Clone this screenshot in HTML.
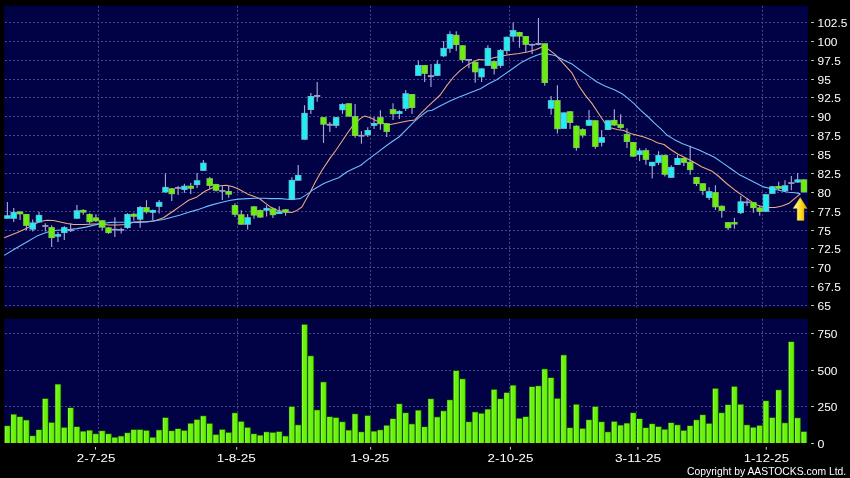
<!DOCTYPE html>
<html><head><meta charset="utf-8"><title>Chart</title>
<style>
html,body{margin:0;padding:0;background:#000;}
body{width:850px;height:478px;position:relative;overflow:hidden;font-family:"Liberation Sans",sans-serif;}
</style></head><body>
<svg width="850" height="478" viewBox="0 0 850 478" style="display:block;position:absolute;left:0;top:0;will-change:transform">
<defs><linearGradient id="ag" x1="0" y1="0" x2="1" y2="0"><stop offset="0" stop-color="#fffbd0"/><stop offset="0.25" stop-color="#fff078"/><stop offset="0.55" stop-color="#ffdc20"/><stop offset="0.85" stop-color="#f2b600"/><stop offset="1" stop-color="#b88000"/></linearGradient>
<linearGradient id="vg" x1="0" y1="0" x2="1" y2="0"><stop offset="0" stop-color="#9cf85c"/><stop offset="0.3" stop-color="#6cf50c"/><stop offset="0.8" stop-color="#68f208"/><stop offset="1" stop-color="#3fb800"/></linearGradient></defs>
<rect x="0" y="0" width="850" height="478" fill="#000"/>
<rect x="4" y="5.8" width="803.9" height="301.7" fill="#010146"/>
<rect x="4" y="318.8" width="803.9" height="124.2" fill="#010146"/>
<g stroke="#8a8ac6" stroke-width="1" stroke-dasharray="2 2" fill="none" opacity="0.53">
<path d="M5 22.5 H807.9"/>
<path d="M5 41.5 H807.9"/>
<path d="M5 60.5 H807.9"/>
<path d="M5 79.5 H807.9"/>
<path d="M5 97.5 H807.9"/>
<path d="M5 116.5 H807.9"/>
<path d="M5 135.5 H807.9"/>
<path d="M5 154.5 H807.9"/>
<path d="M5 173.5 H807.9"/>
<path d="M5 192.5 H807.9"/>
<path d="M5 211.5 H807.9"/>
<path d="M5 230.5 H807.9"/>
<path d="M5 248.5 H807.9"/>
<path d="M5 267.5 H807.9"/>
<path d="M5 286.5 H807.9"/>
<path d="M5 305.5 H807.9"/>
<path d="M5 333.5 H807.9"/>
<path d="M5 370.5 H807.9"/>
<path d="M5 406.5 H807.9"/>
<path d="M98.5 5.8 V307.5"/>
<path d="M98.5 318.8 V443"/>
<path d="M237.5 5.8 V307.5"/>
<path d="M237.5 318.8 V443"/>
<path d="M370.5 5.8 V307.5"/>
<path d="M370.5 318.8 V443"/>
<path d="M509.5 5.8 V307.5"/>
<path d="M509.5 318.8 V443"/>
<path d="M636.5 5.8 V307.5"/>
<path d="M636.5 318.8 V443"/>
<path d="M762.5 5.8 V307.5"/>
<path d="M762.5 318.8 V443"/>
</g>
<path d="M4.2 237.8 L16.8 232.8 L26.8 228.2 L33.5 224.4 L40.2 221.4 L46.9 220.2 L53.6 220.5 L60.3 221.9 L67.0 223.6 L73.7 224.4 L83.8 224.4 L93.8 223.9 L100.5 223.9 L108.9 224.9 L117.3 224.9 L127.3 224.4 L134.0 221.9 L138.4 221.7 L146.8 221.7 L155.1 220.7 L163.5 217.8 L171.9 212.0 L180.3 206.1 L188.6 200.2 L197.0 196.9 L205.4 191.0 L213.8 187.2 L220.5 185.7 L226.3 185.3 L232.2 186.5 L238.9 189.3 L247.3 193.9 L255.6 196.9 L260.0 199.0 L265.0 202.8 L270.0 206.7 L276.8 210.0 L285.1 212.0 L291.8 212.4 L296.9 210.4 L301.9 207.0 L305.2 201.1 L310.3 191.9 L315.3 181.9 L322.0 170.2 L330.4 157.6 L336.1 150.0 L340.3 143.7 L347.0 133.7 L353.7 124.4 L360.4 118.6 L364.5 116.1 L370.4 117.7 L377.1 121.1 L383.8 123.6 L390.5 124.4 L398.9 122.8 L407.3 121.1 L414.8 119.9 L420.7 113.6 L427.4 106.9 L432.0 102.7 L440.2 95.0 L446.9 85.4 L453.6 77.0 L460.3 70.3 L467.0 65.3 L473.7 61.6 L478.7 59.4 L485.4 59.9 L493.8 57.7 L502.1 56.0 L510.5 54.4 L518.9 53.5 L527.3 51.9 L535.6 49.8 L542.6 46.8 L546.8 48.1 L555.1 54.3 L563.5 63.6 L571.9 72.8 L578.4 85.2 L585.2 95.1 L591.9 103.4 L598.6 113.5 L605.3 123.5 L610.4 127.7 L617.1 129.4 L623.8 130.6 L630.5 133.6 L637.2 135.3 L643.9 136.9 L650.6 139.4 L657.3 142.8 L664.0 144.5 L670.7 149.5 L678.1 154.2 L684.8 157.5 L693.1 161.7 L701.5 166.8 L711.6 170.9 L718.3 176.0 L726.6 183.5 L735.0 190.2 L743.4 196.1 L751.8 201.9 L758.5 205.6 L763.5 206.9 L768.5 207.5 L775.2 207.5 L781.9 206.1 L788.6 203.6 L793.6 199.4 L800.3 193.9" fill="none" stroke="#f2aa82" stroke-width="1.05" stroke-linejoin="round"/>
<path d="M4.2 255.4 L16.8 247.8 L26.8 242.0 L36.9 236.1 L46.9 232.3 L57.0 230.3 L67.0 229.9 L77.0 228.6 L87.1 226.9 L97.2 224.4 L103.9 223.2 L110.6 222.4 L117.3 222.2 L127.3 222.2 L134.0 222.4 L138.4 222.5 L146.8 222.0 L155.1 220.8 L163.5 219.5 L171.9 217.3 L180.3 215.0 L188.6 212.3 L197.0 209.9 L205.4 206.9 L213.8 204.4 L222.1 202.2 L230.5 200.2 L238.9 199.1 L247.3 198.6 L255.6 198.2 L264.0 198.2 L270.0 198.6 L280.1 198.6 L290.2 199.5 L300.2 198.6 L306.9 194.4 L313.6 189.4 L323.7 183.6 L333.7 179.4 L338.7 177.7 L347.1 171.8 L353.8 168.5 L360.5 165.5 L367.2 160.1 L377.3 152.6 L387.3 145.0 L393.0 141.0 L398.9 137.0 L407.3 128.6 L414.0 121.9 L420.7 116.1 L427.4 111.0 L432.0 110.2 L440.0 106.0 L450.0 101.0 L458.0 97.5 L464.4 95.0 L472.0 92.1 L480.4 88.7 L488.7 83.7 L497.1 79.5 L505.5 73.6 L513.9 67.8 L522.2 61.9 L530.6 57.7 L536.7 55.2 L542.6 53.4 L548.4 54.2 L555.1 55.5 L563.5 59.9 L571.9 63.9 L580.3 70.3 L588.6 76.1 L597.0 82.0 L605.4 86.2 L613.8 89.5 L622.1 93.7 L627.1 97.6 L633.8 103.4 L640.5 110.1 L647.2 116.0 L653.9 122.7 L660.6 128.6 L667.3 135.3 L674.0 139.4 L682.0 143.6 L690.0 146.5 L699.0 150.0 L706.5 153.4 L714.9 157.5 L723.3 163.4 L731.7 169.3 L740.0 175.1 L748.4 179.3 L756.8 183.5 L763.5 186.9 L770.2 188.5 L776.9 189.7 L781.9 191.0 L788.6 192.2 L795.3 192.7 L800.3 193.9" fill="none" stroke="#70bdfc" stroke-width="1.1" stroke-linejoin="round"/>
<path d="M7.40 202.1 V218.5" stroke="#a6a6d6" stroke-width="1.15"/>
<rect x="4.15" y="215.2" width="6.5" height="3.6" fill="#72c6d8" opacity="0.9"/>
<rect x="5.00" y="216.0" width="4.8" height="2.0" fill="#20eef2"/>
<path d="M13.72 208.1 V221.9" stroke="#a6a6d6" stroke-width="1.15"/>
<rect x="10.47" y="211.9" width="6.5" height="6.9" fill="#72c6d8" opacity="0.9"/>
<rect x="11.32" y="212.7" width="4.8" height="5.3" fill="#20eef2"/>
<path d="M20.04 211.0 V219.9" stroke="#a6a6d6" stroke-width="1.15"/>
<rect x="16.79" y="211.5" width="6.5" height="2.8" fill="#90d060" opacity="0.9"/>
<rect x="17.64" y="212.0" width="4.8" height="1.8" fill="#68f00c"/>
<path d="M26.37 214.0 V230.3" stroke="#a6a6d6" stroke-width="1.15"/>
<rect x="23.12" y="214.0" width="6.5" height="11.9" fill="#90d060" opacity="0.9"/>
<rect x="23.97" y="214.8" width="4.8" height="10.3" fill="#68f00c"/>
<path d="M32.69 219.4 V231.6" stroke="#a6a6d6" stroke-width="1.15"/>
<rect x="29.44" y="222.4" width="6.5" height="7.3" fill="#72c6d8" opacity="0.9"/>
<rect x="30.29" y="223.2" width="4.8" height="5.7" fill="#20eef2"/>
<path d="M39.01 211.8 V222.2" stroke="#a6a6d6" stroke-width="1.15"/>
<rect x="35.76" y="214.9" width="6.5" height="7.6" fill="#72c6d8" opacity="0.9"/>
<rect x="36.61" y="215.7" width="4.8" height="6.0" fill="#20eef2"/>
<path d="M45.33 223.2 V231.6" stroke="#a6a6d6" stroke-width="1.15"/>
<rect x="42.23" y="225.1" width="6.2" height="1.7" fill="#a0a0c4"/>
<path d="M51.65 225.2 V247.0" stroke="#a6a6d6" stroke-width="1.15"/>
<rect x="48.40" y="227.1" width="6.5" height="11.0" fill="#90d060" opacity="0.9"/>
<rect x="49.25" y="227.9" width="4.8" height="9.4" fill="#68f00c"/>
<path d="M57.98 231.9 V242.0" stroke="#a6a6d6" stroke-width="1.15"/>
<rect x="54.73" y="234.1" width="6.5" height="2.6" fill="#72c6d8" opacity="0.9"/>
<rect x="55.58" y="234.6" width="4.8" height="1.6" fill="#20eef2"/>
<path d="M64.30 226.1 V240.0" stroke="#a6a6d6" stroke-width="1.15"/>
<rect x="61.05" y="227.1" width="6.5" height="6.0" fill="#72c6d8" opacity="0.9"/>
<rect x="61.90" y="227.9" width="4.8" height="4.4" fill="#20eef2"/>
<path d="M70.62 223.2 V231.9" stroke="#a6a6d6" stroke-width="1.15"/>
<rect x="67.52" y="229.5" width="6.2" height="1.7" fill="#a0a0c4"/>
<path d="M76.94 205.1 V218.9" stroke="#a6a6d6" stroke-width="1.15"/>
<rect x="73.69" y="210.2" width="6.5" height="8.6" fill="#72c6d8" opacity="0.9"/>
<rect x="74.54" y="211.0" width="4.8" height="7.0" fill="#20eef2"/>
<path d="M83.26 209.3 V214.8" stroke="#a6a6d6" stroke-width="1.15"/>
<rect x="80.01" y="209.9" width="6.5" height="2.7" fill="#90d060" opacity="0.9"/>
<rect x="80.86" y="210.4" width="4.8" height="1.7" fill="#68f00c"/>
<path d="M89.59 213.2 V223.6" stroke="#a6a6d6" stroke-width="1.15"/>
<rect x="86.34" y="214.0" width="6.5" height="8.2" fill="#90d060" opacity="0.9"/>
<rect x="87.19" y="214.8" width="4.8" height="6.6" fill="#68f00c"/>
<path d="M95.91 214.3 V221.9" stroke="#a6a6d6" stroke-width="1.15"/>
<rect x="92.66" y="217.4" width="6.5" height="3.9" fill="#90d060" opacity="0.9"/>
<rect x="93.51" y="218.2" width="4.8" height="2.3" fill="#68f00c"/>
<path d="M102.23 220.2 V230.3" stroke="#a6a6d6" stroke-width="1.15"/>
<rect x="98.98" y="220.2" width="6.5" height="7.5" fill="#90d060" opacity="0.9"/>
<rect x="99.83" y="221.0" width="4.8" height="5.9" fill="#68f00c"/>
<path d="M108.55 226.9 V233.9" stroke="#a6a6d6" stroke-width="1.15"/>
<rect x="105.30" y="227.4" width="6.5" height="5.7" fill="#90d060" opacity="0.9"/>
<rect x="106.15" y="228.2" width="4.8" height="4.1" fill="#68f00c"/>
<path d="M114.87 217.2 V237.0" stroke="#a6a6d6" stroke-width="1.15"/>
<rect x="111.77" y="228.8" width="6.2" height="1.7" fill="#a0a0c4"/>
<path d="M121.20 227.7 V233.6" stroke="#a6a6d6" stroke-width="1.15"/>
<rect x="118.10" y="229.0" width="6.2" height="1.7" fill="#a0a0c4"/>
<path d="M127.52 213.2 V228.9" stroke="#a6a6d6" stroke-width="1.15"/>
<rect x="124.27" y="214.0" width="6.5" height="14.0" fill="#72c6d8" opacity="0.9"/>
<rect x="125.12" y="214.8" width="4.8" height="12.4" fill="#20eef2"/>
<path d="M133.84 212.8 V220.6" stroke="#a6a6d6" stroke-width="1.15"/>
<rect x="130.59" y="213.8" width="6.5" height="3.0" fill="#90d060" opacity="0.9"/>
<rect x="131.44" y="214.6" width="4.8" height="1.4" fill="#68f00c"/>
<path d="M140.16 206.0 V227.8" stroke="#a6a6d6" stroke-width="1.15"/>
<rect x="136.91" y="207.0" width="6.5" height="12.7" fill="#72c6d8" opacity="0.9"/>
<rect x="137.76" y="207.8" width="4.8" height="11.1" fill="#20eef2"/>
<path d="M146.48 200.2 V213.6" stroke="#a6a6d6" stroke-width="1.15"/>
<rect x="143.23" y="207.1" width="6.5" height="5.2" fill="#90d060" opacity="0.9"/>
<rect x="144.08" y="207.9" width="4.8" height="3.6" fill="#68f00c"/>
<path d="M152.81 209.4 V220.0" stroke="#a6a6d6" stroke-width="1.15"/>
<rect x="149.56" y="210.0" width="6.5" height="2.8" fill="#72c6d8" opacity="0.9"/>
<rect x="150.41" y="210.5" width="4.8" height="1.8" fill="#20eef2"/>
<path d="M159.13 199.9 V213.6" stroke="#a6a6d6" stroke-width="1.15"/>
<rect x="155.88" y="201.9" width="6.5" height="5.0" fill="#72c6d8" opacity="0.9"/>
<rect x="156.73" y="202.7" width="4.8" height="3.4" fill="#20eef2"/>
<path d="M165.45 173.4 V192.7" stroke="#a6a6d6" stroke-width="1.15"/>
<rect x="162.20" y="186.9" width="6.5" height="5.6" fill="#72c6d8" opacity="0.9"/>
<rect x="163.05" y="187.7" width="4.8" height="4.0" fill="#20eef2"/>
<path d="M171.77 188.0 V201.1" stroke="#a6a6d6" stroke-width="1.15"/>
<rect x="168.52" y="188.2" width="6.5" height="6.0" fill="#90d060" opacity="0.9"/>
<rect x="169.37" y="189.0" width="4.8" height="4.4" fill="#68f00c"/>
<path d="M178.09 186.0 V194.9" stroke="#a6a6d6" stroke-width="1.15"/>
<rect x="174.99" y="187.1" width="6.2" height="1.7" fill="#a0a0c4"/>
<path d="M184.42 183.8 V192.7" stroke="#a6a6d6" stroke-width="1.15"/>
<rect x="181.17" y="185.7" width="6.5" height="4.3" fill="#72c6d8" opacity="0.9"/>
<rect x="182.02" y="186.5" width="4.8" height="2.7" fill="#20eef2"/>
<path d="M190.74 183.1 V193.9" stroke="#a6a6d6" stroke-width="1.15"/>
<rect x="187.49" y="185.7" width="6.5" height="3.1" fill="#90d060" opacity="0.9"/>
<rect x="188.34" y="186.5" width="4.8" height="1.5" fill="#68f00c"/>
<path d="M197.06 173.1 V188.0" stroke="#a6a6d6" stroke-width="1.15"/>
<rect x="193.81" y="180.2" width="6.5" height="4.9" fill="#72c6d8" opacity="0.9"/>
<rect x="194.66" y="181.0" width="4.8" height="3.3" fill="#20eef2"/>
<path d="M203.38 160.0 V170.9" stroke="#a6a6d6" stroke-width="1.15"/>
<rect x="200.13" y="162.7" width="6.5" height="8.2" fill="#72c6d8" opacity="0.9"/>
<rect x="200.98" y="163.5" width="4.8" height="6.6" fill="#20eef2"/>
<path d="M209.70 177.1 V189.0" stroke="#a6a6d6" stroke-width="1.15"/>
<rect x="206.45" y="178.2" width="6.5" height="7.8" fill="#90d060" opacity="0.9"/>
<rect x="207.30" y="179.0" width="4.8" height="6.2" fill="#68f00c"/>
<path d="M216.03 183.8 V191.5" stroke="#a6a6d6" stroke-width="1.15"/>
<rect x="212.78" y="184.0" width="6.5" height="6.8" fill="#90d060" opacity="0.9"/>
<rect x="213.63" y="184.8" width="4.8" height="5.2" fill="#68f00c"/>
<path d="M222.35 185.2 V199.9" stroke="#a6a6d6" stroke-width="1.15"/>
<rect x="219.25" y="190.1" width="6.2" height="1.7" fill="#a0a0c4"/>
<path d="M228.67 186.0 V197.7" stroke="#a6a6d6" stroke-width="1.15"/>
<rect x="225.42" y="191.0" width="6.5" height="3.7" fill="#90d060" opacity="0.9"/>
<rect x="226.27" y="191.8" width="4.8" height="2.1" fill="#68f00c"/>
<path d="M234.99 203.2 V217.0" stroke="#a6a6d6" stroke-width="1.15"/>
<rect x="231.74" y="205.0" width="6.5" height="9.8" fill="#90d060" opacity="0.9"/>
<rect x="232.59" y="205.8" width="4.8" height="8.2" fill="#68f00c"/>
<path d="M241.31 210.3 V224.5" stroke="#a6a6d6" stroke-width="1.15"/>
<rect x="238.06" y="214.2" width="6.5" height="10.6" fill="#90d060" opacity="0.9"/>
<rect x="238.91" y="215.0" width="4.8" height="9.0" fill="#68f00c"/>
<path d="M247.64 214.0 V229.5" stroke="#a6a6d6" stroke-width="1.15"/>
<rect x="244.39" y="217.2" width="6.5" height="7.6" fill="#72c6d8" opacity="0.9"/>
<rect x="245.24" y="218.0" width="4.8" height="6.0" fill="#20eef2"/>
<path d="M253.96 206.1 V218.7" stroke="#a6a6d6" stroke-width="1.15"/>
<rect x="250.71" y="206.3" width="6.5" height="9.3" fill="#90d060" opacity="0.9"/>
<rect x="251.56" y="207.1" width="4.8" height="7.7" fill="#68f00c"/>
<path d="M260.28 209.4 V217.8" stroke="#a6a6d6" stroke-width="1.15"/>
<rect x="257.03" y="210.0" width="6.5" height="7.6" fill="#90d060" opacity="0.9"/>
<rect x="257.88" y="210.8" width="4.8" height="6.0" fill="#68f00c"/>
<path d="M266.60 205.3 V216.4" stroke="#a6a6d6" stroke-width="1.15"/>
<rect x="263.35" y="207.9" width="6.5" height="2.9" fill="#72c6d8" opacity="0.9"/>
<rect x="264.20" y="208.7" width="4.8" height="1.3" fill="#20eef2"/>
<path d="M272.92 207.8 V217.9" stroke="#a6a6d6" stroke-width="1.15"/>
<rect x="269.67" y="208.4" width="6.5" height="6.8" fill="#90d060" opacity="0.9"/>
<rect x="270.52" y="209.2" width="4.8" height="5.2" fill="#68f00c"/>
<path d="M279.25 206.2 V213.7" stroke="#a6a6d6" stroke-width="1.15"/>
<rect x="276.00" y="211.4" width="6.5" height="2.6" fill="#72c6d8" opacity="0.9"/>
<rect x="276.85" y="211.9" width="4.8" height="1.6" fill="#20eef2"/>
<path d="M285.57 209.0 V215.7" stroke="#a6a6d6" stroke-width="1.15"/>
<rect x="282.32" y="209.2" width="6.5" height="3.5" fill="#90d060" opacity="0.9"/>
<rect x="283.17" y="210.0" width="4.8" height="1.9" fill="#68f00c"/>
<path d="M291.89 177.2 V199.5" stroke="#a6a6d6" stroke-width="1.15"/>
<rect x="288.64" y="179.9" width="6.5" height="19.9" fill="#72c6d8" opacity="0.9"/>
<rect x="289.49" y="180.7" width="4.8" height="18.3" fill="#20eef2"/>
<path d="M298.21 165.1 V180.5" stroke="#a6a6d6" stroke-width="1.15"/>
<rect x="294.96" y="174.9" width="6.5" height="5.9" fill="#72c6d8" opacity="0.9"/>
<rect x="295.81" y="175.7" width="4.8" height="4.3" fill="#20eef2"/>
<path d="M304.53 105.2 V139.5" stroke="#a6a6d6" stroke-width="1.15"/>
<rect x="301.28" y="112.9" width="6.5" height="26.9" fill="#72c6d8" opacity="0.9"/>
<rect x="302.13" y="113.7" width="4.8" height="25.3" fill="#20eef2"/>
<path d="M310.86 93.1 V113.9" stroke="#a6a6d6" stroke-width="1.15"/>
<rect x="307.61" y="96.0" width="6.5" height="14.0" fill="#72c6d8" opacity="0.9"/>
<rect x="308.46" y="96.8" width="4.8" height="12.4" fill="#20eef2"/>
<path d="M317.18 82.1 V101.8" stroke="#a6a6d6" stroke-width="1.15"/>
<rect x="314.08" y="95.0" width="6.2" height="1.9" fill="#a0a0c4"/>
<path d="M323.50 117.2 V142.9" stroke="#a6a6d6" stroke-width="1.15"/>
<rect x="320.25" y="117.1" width="6.5" height="7.6" fill="#90d060" opacity="0.9"/>
<rect x="321.10" y="117.9" width="4.8" height="6.0" fill="#68f00c"/>
<path d="M329.82 121.9 V132.0" stroke="#a6a6d6" stroke-width="1.15"/>
<rect x="326.72" y="123.8" width="6.2" height="1.9" fill="#a0a0c4"/>
<path d="M336.14 116.9 V128.1" stroke="#a6a6d6" stroke-width="1.15"/>
<rect x="332.89" y="117.1" width="6.5" height="8.8" fill="#72c6d8" opacity="0.9"/>
<rect x="333.74" y="117.9" width="4.8" height="7.2" fill="#20eef2"/>
<path d="M342.47 103.2 V113.9" stroke="#a6a6d6" stroke-width="1.15"/>
<rect x="339.22" y="104.0" width="6.5" height="6.2" fill="#72c6d8" opacity="0.9"/>
<rect x="340.07" y="104.8" width="4.8" height="4.6" fill="#20eef2"/>
<path d="M348.79 103.2 V116.4" stroke="#a6a6d6" stroke-width="1.15"/>
<rect x="345.54" y="103.2" width="6.5" height="13.5" fill="#90d060" opacity="0.9"/>
<rect x="346.39" y="104.0" width="4.8" height="11.9" fill="#68f00c"/>
<path d="M355.11 104.0 V137.8" stroke="#a6a6d6" stroke-width="1.15"/>
<rect x="351.86" y="116.1" width="6.5" height="19.9" fill="#90d060" opacity="0.9"/>
<rect x="352.71" y="116.9" width="4.8" height="18.3" fill="#68f00c"/>
<path d="M361.43 131.1 V143.7" stroke="#a6a6d6" stroke-width="1.15"/>
<rect x="358.33" y="134.9" width="6.2" height="1.7" fill="#a0a0c4"/>
<path d="M367.75 127.3 V137.0" stroke="#a6a6d6" stroke-width="1.15"/>
<rect x="364.50" y="130.0" width="6.5" height="5.3" fill="#72c6d8" opacity="0.9"/>
<rect x="365.35" y="130.8" width="4.8" height="3.7" fill="#20eef2"/>
<path d="M374.08 116.9 V129.0" stroke="#a6a6d6" stroke-width="1.15"/>
<rect x="370.83" y="123.0" width="6.5" height="2.9" fill="#72c6d8" opacity="0.9"/>
<rect x="371.68" y="123.8" width="4.8" height="1.3" fill="#20eef2"/>
<path d="M380.40 110.2 V129.8" stroke="#a6a6d6" stroke-width="1.15"/>
<rect x="377.15" y="117.1" width="6.5" height="7.1" fill="#90d060" opacity="0.9"/>
<rect x="378.00" y="117.9" width="4.8" height="5.5" fill="#68f00c"/>
<path d="M386.72 123.3 V137.0" stroke="#a6a6d6" stroke-width="1.15"/>
<rect x="383.47" y="123.3" width="6.5" height="8.6" fill="#90d060" opacity="0.9"/>
<rect x="384.32" y="124.1" width="4.8" height="7.0" fill="#68f00c"/>
<path d="M393.04 103.2 V119.9" stroke="#a6a6d6" stroke-width="1.15"/>
<rect x="389.79" y="109.1" width="6.5" height="5.1" fill="#90d060" opacity="0.9"/>
<rect x="390.64" y="109.9" width="4.8" height="3.5" fill="#68f00c"/>
<path d="M399.36 110.2 V118.9" stroke="#a6a6d6" stroke-width="1.15"/>
<rect x="396.11" y="111.1" width="6.5" height="2.8" fill="#72c6d8" opacity="0.9"/>
<rect x="396.96" y="111.6" width="4.8" height="1.8" fill="#20eef2"/>
<path d="M405.69 90.1 V111.0" stroke="#a6a6d6" stroke-width="1.15"/>
<rect x="402.44" y="93.2" width="6.5" height="15.6" fill="#72c6d8" opacity="0.9"/>
<rect x="403.29" y="94.0" width="4.8" height="14.0" fill="#20eef2"/>
<path d="M412.01 94.0 V113.9" stroke="#a6a6d6" stroke-width="1.15"/>
<rect x="408.76" y="94.0" width="6.5" height="14.0" fill="#90d060" opacity="0.9"/>
<rect x="409.61" y="94.8" width="4.8" height="12.4" fill="#68f00c"/>
<path d="M418.33 60.6 V75.6" stroke="#a6a6d6" stroke-width="1.15"/>
<rect x="415.08" y="65.0" width="6.5" height="10.9" fill="#72c6d8" opacity="0.9"/>
<rect x="415.93" y="65.8" width="4.8" height="9.3" fill="#20eef2"/>
<path d="M424.65 64.9 V82.0" stroke="#a6a6d6" stroke-width="1.15"/>
<rect x="421.40" y="65.0" width="6.5" height="8.9" fill="#90d060" opacity="0.9"/>
<rect x="422.25" y="65.8" width="4.8" height="7.3" fill="#68f00c"/>
<path d="M430.97 64.1 V87.0" stroke="#a6a6d6" stroke-width="1.15"/>
<rect x="427.87" y="75.2" width="6.2" height="1.9" fill="#a0a0c4"/>
<path d="M437.30 60.2 V75.6" stroke="#a6a6d6" stroke-width="1.15"/>
<rect x="434.05" y="63.8" width="6.5" height="12.1" fill="#72c6d8" opacity="0.9"/>
<rect x="434.90" y="64.6" width="4.8" height="10.5" fill="#20eef2"/>
<path d="M443.62 41.0 V56.9" stroke="#a6a6d6" stroke-width="1.15"/>
<rect x="440.37" y="47.9" width="6.5" height="8.4" fill="#72c6d8" opacity="0.9"/>
<rect x="441.22" y="48.7" width="4.8" height="6.8" fill="#20eef2"/>
<path d="M449.94 31.2 V52.7" stroke="#a6a6d6" stroke-width="1.15"/>
<rect x="446.69" y="34.0" width="6.5" height="14.8" fill="#72c6d8" opacity="0.9"/>
<rect x="447.54" y="34.8" width="4.8" height="13.2" fill="#20eef2"/>
<path d="M456.26 31.2 V51.0" stroke="#a6a6d6" stroke-width="1.15"/>
<rect x="453.01" y="34.8" width="6.5" height="10.3" fill="#90d060" opacity="0.9"/>
<rect x="453.86" y="35.6" width="4.8" height="8.7" fill="#68f00c"/>
<path d="M462.58 45.2 V62.7" stroke="#a6a6d6" stroke-width="1.15"/>
<rect x="459.33" y="45.2" width="6.5" height="15.0" fill="#90d060" opacity="0.9"/>
<rect x="460.18" y="46.0" width="4.8" height="13.4" fill="#68f00c"/>
<path d="M468.91 58.9 V68.3" stroke="#a6a6d6" stroke-width="1.15"/>
<rect x="465.81" y="59.0" width="6.2" height="1.8" fill="#a0a0c4"/>
<path d="M475.23 61.6 V82.8" stroke="#a6a6d6" stroke-width="1.15"/>
<rect x="471.98" y="61.9" width="6.5" height="10.4" fill="#90d060" opacity="0.9"/>
<rect x="472.83" y="62.7" width="4.8" height="8.8" fill="#68f00c"/>
<path d="M481.55 68.3 V82.0" stroke="#a6a6d6" stroke-width="1.15"/>
<rect x="478.30" y="68.3" width="6.5" height="9.0" fill="#72c6d8" opacity="0.9"/>
<rect x="479.15" y="69.1" width="4.8" height="7.4" fill="#20eef2"/>
<path d="M487.87 45.2 V65.6" stroke="#a6a6d6" stroke-width="1.15"/>
<rect x="484.62" y="47.9" width="6.5" height="18.0" fill="#72c6d8" opacity="0.9"/>
<rect x="485.47" y="48.7" width="4.8" height="16.4" fill="#20eef2"/>
<path d="M494.19 61.1 V74.5" stroke="#a6a6d6" stroke-width="1.15"/>
<rect x="490.94" y="61.1" width="6.5" height="7.8" fill="#90d060" opacity="0.9"/>
<rect x="491.79" y="61.9" width="4.8" height="6.2" fill="#68f00c"/>
<path d="M500.52 49.0 V67.8" stroke="#a6a6d6" stroke-width="1.15"/>
<rect x="497.27" y="49.9" width="6.5" height="16.0" fill="#72c6d8" opacity="0.9"/>
<rect x="498.12" y="50.7" width="4.8" height="14.4" fill="#20eef2"/>
<path d="M506.84 36.4 V54.4" stroke="#a6a6d6" stroke-width="1.15"/>
<rect x="503.59" y="36.8" width="6.5" height="14.2" fill="#72c6d8" opacity="0.9"/>
<rect x="504.44" y="37.6" width="4.8" height="12.6" fill="#20eef2"/>
<path d="M513.16 22.5 V41.8" stroke="#a6a6d6" stroke-width="1.15"/>
<rect x="509.91" y="30.1" width="6.5" height="6.6" fill="#72c6d8" opacity="0.9"/>
<rect x="510.76" y="30.9" width="4.8" height="5.0" fill="#20eef2"/>
<path d="M519.48 31.8 V47.7" stroke="#a6a6d6" stroke-width="1.15"/>
<rect x="516.23" y="32.0" width="6.5" height="4.6" fill="#90d060" opacity="0.9"/>
<rect x="517.08" y="32.8" width="4.8" height="3.0" fill="#68f00c"/>
<path d="M525.80 35.9 V52.2" stroke="#a6a6d6" stroke-width="1.15"/>
<rect x="522.55" y="36.0" width="6.5" height="8.9" fill="#90d060" opacity="0.9"/>
<rect x="523.40" y="36.8" width="4.8" height="7.3" fill="#68f00c"/>
<path d="M532.13 43.8 V53.9" stroke="#a6a6d6" stroke-width="1.15"/>
<rect x="529.03" y="43.9" width="6.2" height="1.7" fill="#a0a0c4"/>
<path d="M538.45 18.0 V45.2" stroke="#a6a6d6" stroke-width="1.15"/>
<rect x="535.35" y="43.0" width="6.2" height="1.9" fill="#a0a0c4"/>
<path d="M544.77 43.5 V85.7" stroke="#a6a6d6" stroke-width="1.15"/>
<rect x="541.52" y="43.2" width="6.5" height="39.8" fill="#90d060" opacity="0.9"/>
<rect x="542.37" y="44.0" width="4.8" height="38.2" fill="#68f00c"/>
<path d="M551.09 95.9 V114.8" stroke="#a6a6d6" stroke-width="1.15"/>
<rect x="547.84" y="100.1" width="6.5" height="8.7" fill="#72c6d8" opacity="0.9"/>
<rect x="548.69" y="100.9" width="4.8" height="7.1" fill="#20eef2"/>
<path d="M557.41 85.3 V133.6" stroke="#a6a6d6" stroke-width="1.15"/>
<rect x="554.16" y="100.1" width="6.5" height="29.1" fill="#90d060" opacity="0.9"/>
<rect x="555.01" y="100.9" width="4.8" height="27.5" fill="#68f00c"/>
<path d="M563.74 112.6 V128.6" stroke="#a6a6d6" stroke-width="1.15"/>
<rect x="560.49" y="112.3" width="6.5" height="16.6" fill="#72c6d8" opacity="0.9"/>
<rect x="561.34" y="113.1" width="4.8" height="15.0" fill="#20eef2"/>
<path d="M570.06 111.0 V128.9" stroke="#a6a6d6" stroke-width="1.15"/>
<rect x="566.81" y="111.2" width="6.5" height="11.8" fill="#90d060" opacity="0.9"/>
<rect x="567.66" y="112.0" width="4.8" height="10.2" fill="#68f00c"/>
<path d="M576.38 125.2 V150.7" stroke="#a6a6d6" stroke-width="1.15"/>
<rect x="573.13" y="125.7" width="6.5" height="22.4" fill="#90d060" opacity="0.9"/>
<rect x="573.98" y="126.5" width="4.8" height="20.8" fill="#68f00c"/>
<path d="M582.70 128.2 V137.8" stroke="#a6a6d6" stroke-width="1.15"/>
<rect x="579.45" y="129.1" width="6.5" height="6.5" fill="#90d060" opacity="0.9"/>
<rect x="580.30" y="129.9" width="4.8" height="4.9" fill="#68f00c"/>
<path d="M589.02 110.1 V126.0" stroke="#a6a6d6" stroke-width="1.15"/>
<rect x="585.77" y="119.9" width="6.5" height="5.9" fill="#72c6d8" opacity="0.9"/>
<rect x="586.62" y="120.7" width="4.8" height="4.3" fill="#20eef2"/>
<path d="M595.35 120.2 V148.7" stroke="#a6a6d6" stroke-width="1.15"/>
<rect x="592.10" y="120.2" width="6.5" height="26.7" fill="#90d060" opacity="0.9"/>
<rect x="592.95" y="121.0" width="4.8" height="25.1" fill="#68f00c"/>
<path d="M601.67 129.9 V146.6" stroke="#a6a6d6" stroke-width="1.15"/>
<rect x="598.42" y="137.1" width="6.5" height="5.7" fill="#72c6d8" opacity="0.9"/>
<rect x="599.27" y="137.9" width="4.8" height="4.1" fill="#20eef2"/>
<path d="M607.99 120.2 V129.7" stroke="#a6a6d6" stroke-width="1.15"/>
<rect x="604.74" y="120.2" width="6.5" height="9.8" fill="#72c6d8" opacity="0.9"/>
<rect x="605.59" y="121.0" width="4.8" height="8.2" fill="#20eef2"/>
<path d="M614.31 109.3 V126.0" stroke="#a6a6d6" stroke-width="1.15"/>
<rect x="611.06" y="119.9" width="6.5" height="5.6" fill="#90d060" opacity="0.9"/>
<rect x="611.91" y="120.7" width="4.8" height="4.0" fill="#68f00c"/>
<path d="M620.63 114.3 V128.9" stroke="#a6a6d6" stroke-width="1.15"/>
<rect x="617.38" y="124.1" width="6.5" height="3.9" fill="#90d060" opacity="0.9"/>
<rect x="618.23" y="124.9" width="4.8" height="2.3" fill="#68f00c"/>
<path d="M626.96 128.3 V147.9" stroke="#a6a6d6" stroke-width="1.15"/>
<rect x="623.71" y="133.9" width="6.5" height="8.1" fill="#90d060" opacity="0.9"/>
<rect x="624.56" y="134.7" width="4.8" height="6.5" fill="#68f00c"/>
<path d="M633.28 142.0 V156.8" stroke="#a6a6d6" stroke-width="1.15"/>
<rect x="630.03" y="142.0" width="6.5" height="14.7" fill="#90d060" opacity="0.9"/>
<rect x="630.88" y="142.8" width="4.8" height="13.1" fill="#68f00c"/>
<path d="M639.60 148.3 V161.0" stroke="#a6a6d6" stroke-width="1.15"/>
<rect x="636.35" y="150.3" width="6.5" height="4.6" fill="#72c6d8" opacity="0.9"/>
<rect x="637.20" y="151.1" width="4.8" height="3.0" fill="#20eef2"/>
<path d="M645.92 148.3 V164.7" stroke="#a6a6d6" stroke-width="1.15"/>
<rect x="642.67" y="150.1" width="6.5" height="9.8" fill="#90d060" opacity="0.9"/>
<rect x="643.52" y="150.9" width="4.8" height="8.2" fill="#68f00c"/>
<path d="M652.24 161.9 V178.5" stroke="#a6a6d6" stroke-width="1.15"/>
<rect x="648.99" y="161.8" width="6.5" height="4.4" fill="#72c6d8" opacity="0.9"/>
<rect x="649.84" y="162.6" width="4.8" height="2.8" fill="#20eef2"/>
<path d="M658.57 151.2 V165.0" stroke="#a6a6d6" stroke-width="1.15"/>
<rect x="655.32" y="155.0" width="6.5" height="7.9" fill="#72c6d8" opacity="0.9"/>
<rect x="656.17" y="155.8" width="4.8" height="6.3" fill="#20eef2"/>
<path d="M664.89 154.6 V176.6" stroke="#a6a6d6" stroke-width="1.15"/>
<rect x="661.64" y="155.0" width="6.5" height="19.8" fill="#90d060" opacity="0.9"/>
<rect x="662.49" y="155.8" width="4.8" height="18.2" fill="#68f00c"/>
<path d="M671.21 165.3 V177.6" stroke="#a6a6d6" stroke-width="1.15"/>
<rect x="667.96" y="166.9" width="6.5" height="11.0" fill="#72c6d8" opacity="0.9"/>
<rect x="668.81" y="167.7" width="4.8" height="9.4" fill="#20eef2"/>
<path d="M677.53 155.1 V164.7" stroke="#a6a6d6" stroke-width="1.15"/>
<rect x="674.28" y="157.9" width="6.5" height="7.1" fill="#72c6d8" opacity="0.9"/>
<rect x="675.13" y="158.7" width="4.8" height="5.5" fill="#20eef2"/>
<path d="M683.85 157.5 V165.9" stroke="#a6a6d6" stroke-width="1.15"/>
<rect x="680.60" y="157.9" width="6.5" height="5.0" fill="#90d060" opacity="0.9"/>
<rect x="681.45" y="158.7" width="4.8" height="3.4" fill="#68f00c"/>
<path d="M690.18 145.8 V174.8" stroke="#a6a6d6" stroke-width="1.15"/>
<rect x="686.93" y="161.8" width="6.5" height="8.3" fill="#90d060" opacity="0.9"/>
<rect x="687.78" y="162.6" width="4.8" height="6.7" fill="#68f00c"/>
<path d="M696.50 176.8 V186.0" stroke="#a6a6d6" stroke-width="1.15"/>
<rect x="693.25" y="177.0" width="6.5" height="7.0" fill="#90d060" opacity="0.9"/>
<rect x="694.10" y="177.8" width="4.8" height="5.4" fill="#68f00c"/>
<path d="M702.82 183.2 V194.9" stroke="#a6a6d6" stroke-width="1.15"/>
<rect x="699.57" y="183.2" width="6.5" height="7.8" fill="#90d060" opacity="0.9"/>
<rect x="700.42" y="184.0" width="4.8" height="6.2" fill="#68f00c"/>
<path d="M709.14 187.2 V199.9" stroke="#a6a6d6" stroke-width="1.15"/>
<rect x="705.89" y="191.1" width="6.5" height="6.9" fill="#72c6d8" opacity="0.9"/>
<rect x="706.74" y="191.9" width="4.8" height="5.3" fill="#20eef2"/>
<path d="M715.46 185.2 V210.0" stroke="#a6a6d6" stroke-width="1.15"/>
<rect x="712.21" y="192.1" width="6.5" height="15.2" fill="#90d060" opacity="0.9"/>
<rect x="713.06" y="192.9" width="4.8" height="13.6" fill="#68f00c"/>
<path d="M721.79 205.3 V217.8" stroke="#a6a6d6" stroke-width="1.15"/>
<rect x="718.54" y="205.8" width="6.5" height="5.1" fill="#90d060" opacity="0.9"/>
<rect x="719.39" y="206.6" width="4.8" height="3.5" fill="#68f00c"/>
<path d="M728.11 222.0 V230.0" stroke="#a6a6d6" stroke-width="1.15"/>
<rect x="724.86" y="222.1" width="6.5" height="6.1" fill="#90d060" opacity="0.9"/>
<rect x="725.71" y="222.9" width="4.8" height="4.5" fill="#68f00c"/>
<path d="M734.43 217.8 V228.7" stroke="#a6a6d6" stroke-width="1.15"/>
<rect x="731.18" y="222.1" width="6.5" height="2.4" fill="#90d060" opacity="0.9"/>
<rect x="732.03" y="222.6" width="4.8" height="1.4" fill="#68f00c"/>
<path d="M740.75 196.1 V214.0" stroke="#a6a6d6" stroke-width="1.15"/>
<rect x="737.50" y="201.3" width="6.5" height="11.8" fill="#72c6d8" opacity="0.9"/>
<rect x="738.35" y="202.1" width="4.8" height="10.2" fill="#20eef2"/>
<path d="M747.07 198.1 V206.1" stroke="#a6a6d6" stroke-width="1.15"/>
<rect x="743.97" y="201.5" width="6.2" height="1.7" fill="#a0a0c4"/>
<path d="M753.40 201.9 V212.8" stroke="#a6a6d6" stroke-width="1.15"/>
<rect x="750.15" y="202.1" width="6.5" height="6.0" fill="#90d060" opacity="0.9"/>
<rect x="751.00" y="202.9" width="4.8" height="4.4" fill="#68f00c"/>
<path d="M759.72 206.1 V215.8" stroke="#a6a6d6" stroke-width="1.15"/>
<rect x="756.47" y="207.5" width="6.5" height="4.4" fill="#90d060" opacity="0.9"/>
<rect x="757.32" y="208.3" width="4.8" height="2.8" fill="#68f00c"/>
<path d="M766.04 193.9 V211.6" stroke="#a6a6d6" stroke-width="1.15"/>
<rect x="762.79" y="194.1" width="6.5" height="17.8" fill="#72c6d8" opacity="0.9"/>
<rect x="763.64" y="194.9" width="4.8" height="16.2" fill="#20eef2"/>
<path d="M772.36 186.0 V193.6" stroke="#a6a6d6" stroke-width="1.15"/>
<rect x="769.11" y="186.2" width="6.5" height="7.7" fill="#72c6d8" opacity="0.9"/>
<rect x="769.96" y="187.0" width="4.8" height="6.1" fill="#20eef2"/>
<path d="M778.68 181.8 V190.2" stroke="#a6a6d6" stroke-width="1.15"/>
<rect x="775.43" y="186.0" width="6.5" height="2.8" fill="#90d060" opacity="0.9"/>
<rect x="776.28" y="186.5" width="4.8" height="1.8" fill="#68f00c"/>
<path d="M785.01 180.2 V191.9" stroke="#a6a6d6" stroke-width="1.15"/>
<rect x="781.76" y="185.2" width="6.5" height="5.8" fill="#72c6d8" opacity="0.9"/>
<rect x="782.61" y="186.0" width="4.8" height="4.2" fill="#20eef2"/>
<path d="M791.33 176.0 V190.2" stroke="#a6a6d6" stroke-width="1.15"/>
<rect x="788.23" y="182.2" width="6.2" height="1.7" fill="#a0a0c4"/>
<path d="M797.65 173.1 V182.7" stroke="#a6a6d6" stroke-width="1.15"/>
<rect x="794.40" y="179.3" width="6.5" height="3.3" fill="#72c6d8" opacity="0.9"/>
<rect x="795.25" y="180.1" width="4.8" height="1.7" fill="#20eef2"/>
<path d="M803.97 179.3 V192.7" stroke="#a6a6d6" stroke-width="1.15"/>
<rect x="800.72" y="179.3" width="6.5" height="12.9" fill="#90d060" opacity="0.9"/>
<rect x="801.57" y="180.1" width="4.8" height="11.3" fill="#68f00c"/>
<path d="M800.2 197.5 L807.2 208.6 L804.0 208.6 L804.0 220.4 L797.1 220.4 L797.1 208.6 L793.0 208.6 Z" fill="url(#ag)" stroke="#c89a20" stroke-width="0.4"/>
<rect x="4.30" y="425.5" width="6.32" height="17.5" fill="#145a00"/>
<rect x="4.80" y="426.1" width="5.32" height="16.9" fill="url(#vg)"/>
<rect x="10.62" y="414.0" width="6.32" height="29.0" fill="#145a00"/>
<rect x="11.12" y="414.6" width="5.32" height="28.4" fill="url(#vg)"/>
<rect x="16.94" y="416.4" width="6.32" height="26.6" fill="#145a00"/>
<rect x="17.44" y="417.0" width="5.32" height="26.0" fill="url(#vg)"/>
<rect x="23.27" y="419.8" width="6.32" height="23.2" fill="#145a00"/>
<rect x="23.77" y="420.4" width="5.32" height="22.6" fill="url(#vg)"/>
<rect x="29.59" y="435.5" width="6.32" height="7.5" fill="#145a00"/>
<rect x="30.09" y="436.1" width="5.32" height="6.9" fill="url(#vg)"/>
<rect x="35.91" y="429.4" width="6.32" height="13.6" fill="#145a00"/>
<rect x="36.41" y="430.0" width="5.32" height="13.0" fill="url(#vg)"/>
<rect x="42.23" y="398.3" width="6.32" height="44.7" fill="#145a00"/>
<rect x="42.73" y="398.9" width="5.32" height="44.1" fill="url(#vg)"/>
<rect x="48.55" y="422.2" width="6.32" height="20.8" fill="#145a00"/>
<rect x="49.05" y="422.8" width="5.32" height="20.2" fill="url(#vg)"/>
<rect x="54.88" y="383.9" width="6.32" height="59.1" fill="#145a00"/>
<rect x="55.38" y="384.5" width="5.32" height="58.5" fill="url(#vg)"/>
<rect x="61.20" y="427.2" width="6.32" height="15.8" fill="#145a00"/>
<rect x="61.70" y="427.8" width="5.32" height="15.2" fill="url(#vg)"/>
<rect x="67.52" y="407.4" width="6.32" height="35.6" fill="#145a00"/>
<rect x="68.02" y="408.0" width="5.32" height="35.0" fill="url(#vg)"/>
<rect x="73.84" y="426.4" width="6.32" height="16.6" fill="#145a00"/>
<rect x="74.34" y="427.0" width="5.32" height="16.0" fill="url(#vg)"/>
<rect x="80.16" y="431.0" width="6.32" height="12.0" fill="#145a00"/>
<rect x="80.66" y="431.6" width="5.32" height="11.4" fill="url(#vg)"/>
<rect x="86.49" y="430.0" width="6.32" height="13.0" fill="#145a00"/>
<rect x="86.99" y="430.6" width="5.32" height="12.4" fill="url(#vg)"/>
<rect x="92.81" y="433.5" width="6.32" height="9.5" fill="#145a00"/>
<rect x="93.31" y="434.1" width="5.32" height="8.9" fill="url(#vg)"/>
<rect x="99.13" y="430.5" width="6.32" height="12.5" fill="#145a00"/>
<rect x="99.63" y="431.1" width="5.32" height="11.9" fill="url(#vg)"/>
<rect x="105.45" y="433.5" width="6.32" height="9.5" fill="#145a00"/>
<rect x="105.95" y="434.1" width="5.32" height="8.9" fill="url(#vg)"/>
<rect x="111.77" y="437.1" width="6.32" height="5.9" fill="#145a00"/>
<rect x="112.27" y="437.7" width="5.32" height="5.3" fill="url(#vg)"/>
<rect x="118.10" y="435.8" width="6.32" height="7.2" fill="#145a00"/>
<rect x="118.60" y="436.4" width="5.32" height="6.6" fill="url(#vg)"/>
<rect x="124.42" y="432.5" width="6.32" height="10.5" fill="#145a00"/>
<rect x="124.92" y="433.1" width="5.32" height="9.9" fill="url(#vg)"/>
<rect x="130.74" y="429.3" width="6.32" height="13.7" fill="#145a00"/>
<rect x="131.24" y="429.9" width="5.32" height="13.1" fill="url(#vg)"/>
<rect x="137.06" y="429.3" width="6.32" height="13.7" fill="#145a00"/>
<rect x="137.56" y="429.9" width="5.32" height="13.1" fill="url(#vg)"/>
<rect x="143.38" y="430.2" width="6.32" height="12.8" fill="#145a00"/>
<rect x="143.88" y="430.8" width="5.32" height="12.2" fill="url(#vg)"/>
<rect x="149.71" y="437.1" width="6.32" height="5.9" fill="#145a00"/>
<rect x="150.21" y="437.7" width="5.32" height="5.3" fill="url(#vg)"/>
<rect x="156.03" y="429.7" width="6.32" height="13.3" fill="#145a00"/>
<rect x="156.53" y="430.3" width="5.32" height="12.7" fill="url(#vg)"/>
<rect x="162.35" y="417.3" width="6.32" height="25.7" fill="#145a00"/>
<rect x="162.85" y="417.9" width="5.32" height="25.1" fill="url(#vg)"/>
<rect x="168.67" y="430.5" width="6.32" height="12.5" fill="#145a00"/>
<rect x="169.17" y="431.1" width="5.32" height="11.9" fill="url(#vg)"/>
<rect x="174.99" y="428.4" width="6.32" height="14.6" fill="#145a00"/>
<rect x="175.49" y="429.0" width="5.32" height="14.0" fill="url(#vg)"/>
<rect x="181.32" y="430.2" width="6.32" height="12.8" fill="#145a00"/>
<rect x="181.82" y="430.8" width="5.32" height="12.2" fill="url(#vg)"/>
<rect x="187.64" y="423.1" width="6.32" height="19.9" fill="#145a00"/>
<rect x="188.14" y="423.7" width="5.32" height="19.3" fill="url(#vg)"/>
<rect x="193.96" y="419.3" width="6.32" height="23.7" fill="#145a00"/>
<rect x="194.46" y="419.9" width="5.32" height="23.1" fill="url(#vg)"/>
<rect x="200.28" y="415.6" width="6.32" height="27.4" fill="#145a00"/>
<rect x="200.78" y="416.2" width="5.32" height="26.8" fill="url(#vg)"/>
<rect x="206.60" y="423.2" width="6.32" height="19.8" fill="#145a00"/>
<rect x="207.10" y="423.8" width="5.32" height="19.2" fill="url(#vg)"/>
<rect x="212.93" y="434.3" width="6.32" height="8.7" fill="#145a00"/>
<rect x="213.43" y="434.9" width="5.32" height="8.1" fill="url(#vg)"/>
<rect x="219.25" y="429.2" width="6.32" height="13.8" fill="#145a00"/>
<rect x="219.75" y="429.8" width="5.32" height="13.2" fill="url(#vg)"/>
<rect x="225.57" y="432.2" width="6.32" height="10.8" fill="#145a00"/>
<rect x="226.07" y="432.8" width="5.32" height="10.2" fill="url(#vg)"/>
<rect x="231.89" y="412.6" width="6.32" height="30.4" fill="#145a00"/>
<rect x="232.39" y="413.2" width="5.32" height="29.8" fill="url(#vg)"/>
<rect x="238.21" y="421.2" width="6.32" height="21.8" fill="#145a00"/>
<rect x="238.71" y="421.8" width="5.32" height="21.2" fill="url(#vg)"/>
<rect x="244.54" y="427.2" width="6.32" height="15.8" fill="#145a00"/>
<rect x="245.04" y="427.8" width="5.32" height="15.2" fill="url(#vg)"/>
<rect x="250.86" y="433.5" width="6.32" height="9.5" fill="#145a00"/>
<rect x="251.36" y="434.1" width="5.32" height="8.9" fill="url(#vg)"/>
<rect x="257.18" y="435.0" width="6.32" height="8.0" fill="#145a00"/>
<rect x="257.68" y="435.6" width="5.32" height="7.4" fill="url(#vg)"/>
<rect x="263.50" y="431.6" width="6.32" height="11.4" fill="#145a00"/>
<rect x="264.00" y="432.2" width="5.32" height="10.8" fill="url(#vg)"/>
<rect x="269.82" y="432.2" width="6.32" height="10.8" fill="#145a00"/>
<rect x="270.32" y="432.8" width="5.32" height="10.2" fill="url(#vg)"/>
<rect x="276.15" y="431.3" width="6.32" height="11.7" fill="#145a00"/>
<rect x="276.65" y="431.9" width="5.32" height="11.1" fill="url(#vg)"/>
<rect x="282.47" y="435.8" width="6.32" height="7.2" fill="#145a00"/>
<rect x="282.97" y="436.4" width="5.32" height="6.6" fill="url(#vg)"/>
<rect x="288.79" y="406.3" width="6.32" height="36.7" fill="#145a00"/>
<rect x="289.29" y="406.9" width="5.32" height="36.1" fill="url(#vg)"/>
<rect x="295.11" y="424.6" width="6.32" height="18.4" fill="#145a00"/>
<rect x="295.61" y="425.2" width="5.32" height="17.8" fill="url(#vg)"/>
<rect x="301.43" y="324.2" width="6.32" height="118.8" fill="#145a00"/>
<rect x="301.93" y="324.8" width="5.32" height="118.2" fill="url(#vg)"/>
<rect x="307.76" y="355.6" width="6.32" height="87.4" fill="#145a00"/>
<rect x="308.26" y="356.2" width="5.32" height="86.8" fill="url(#vg)"/>
<rect x="314.08" y="409.7" width="6.32" height="33.3" fill="#145a00"/>
<rect x="314.58" y="410.3" width="5.32" height="32.7" fill="url(#vg)"/>
<rect x="320.40" y="381.7" width="6.32" height="61.3" fill="#145a00"/>
<rect x="320.90" y="382.3" width="5.32" height="60.7" fill="url(#vg)"/>
<rect x="326.72" y="416.4" width="6.32" height="26.6" fill="#145a00"/>
<rect x="327.22" y="417.0" width="5.32" height="26.0" fill="url(#vg)"/>
<rect x="333.04" y="417.3" width="6.32" height="25.7" fill="#145a00"/>
<rect x="333.54" y="417.9" width="5.32" height="25.1" fill="url(#vg)"/>
<rect x="339.37" y="421.5" width="6.32" height="21.5" fill="#145a00"/>
<rect x="339.87" y="422.1" width="5.32" height="20.9" fill="url(#vg)"/>
<rect x="345.69" y="429.9" width="6.32" height="13.1" fill="#145a00"/>
<rect x="346.19" y="430.5" width="5.32" height="12.5" fill="url(#vg)"/>
<rect x="352.01" y="413.6" width="6.32" height="29.4" fill="#145a00"/>
<rect x="352.51" y="414.2" width="5.32" height="28.8" fill="url(#vg)"/>
<rect x="358.33" y="431.6" width="6.32" height="11.4" fill="#145a00"/>
<rect x="358.83" y="432.2" width="5.32" height="10.8" fill="url(#vg)"/>
<rect x="364.65" y="415.3" width="6.32" height="27.7" fill="#145a00"/>
<rect x="365.15" y="415.9" width="5.32" height="27.1" fill="url(#vg)"/>
<rect x="370.98" y="431.0" width="6.32" height="12.0" fill="#145a00"/>
<rect x="371.48" y="431.6" width="5.32" height="11.4" fill="url(#vg)"/>
<rect x="377.30" y="429.6" width="6.32" height="13.4" fill="#145a00"/>
<rect x="377.80" y="430.2" width="5.32" height="12.8" fill="url(#vg)"/>
<rect x="383.62" y="425.1" width="6.32" height="17.9" fill="#145a00"/>
<rect x="384.12" y="425.7" width="5.32" height="17.3" fill="url(#vg)"/>
<rect x="389.94" y="418.4" width="6.32" height="24.6" fill="#145a00"/>
<rect x="390.44" y="419.0" width="5.32" height="24.0" fill="url(#vg)"/>
<rect x="396.26" y="403.5" width="6.32" height="39.5" fill="#145a00"/>
<rect x="396.76" y="404.1" width="5.32" height="38.9" fill="url(#vg)"/>
<rect x="402.59" y="412.5" width="6.32" height="30.5" fill="#145a00"/>
<rect x="403.09" y="413.1" width="5.32" height="29.9" fill="url(#vg)"/>
<rect x="408.91" y="423.7" width="6.32" height="19.3" fill="#145a00"/>
<rect x="409.41" y="424.3" width="5.32" height="18.7" fill="url(#vg)"/>
<rect x="415.23" y="410.0" width="6.32" height="33.0" fill="#145a00"/>
<rect x="415.73" y="410.6" width="5.32" height="32.4" fill="url(#vg)"/>
<rect x="421.55" y="426.5" width="6.32" height="16.5" fill="#145a00"/>
<rect x="422.05" y="427.1" width="5.32" height="15.9" fill="url(#vg)"/>
<rect x="427.87" y="398.5" width="6.32" height="44.5" fill="#145a00"/>
<rect x="428.37" y="399.1" width="5.32" height="43.9" fill="url(#vg)"/>
<rect x="434.20" y="416.7" width="6.32" height="26.3" fill="#145a00"/>
<rect x="434.70" y="417.3" width="5.32" height="25.7" fill="url(#vg)"/>
<rect x="440.52" y="410.6" width="6.32" height="32.4" fill="#145a00"/>
<rect x="441.02" y="411.2" width="5.32" height="31.8" fill="url(#vg)"/>
<rect x="446.84" y="399.6" width="6.32" height="43.4" fill="#145a00"/>
<rect x="447.34" y="400.2" width="5.32" height="42.8" fill="url(#vg)"/>
<rect x="453.16" y="370.4" width="6.32" height="72.6" fill="#145a00"/>
<rect x="453.66" y="371.0" width="5.32" height="72.0" fill="url(#vg)"/>
<rect x="459.48" y="378.6" width="6.32" height="64.4" fill="#145a00"/>
<rect x="459.98" y="379.2" width="5.32" height="63.8" fill="url(#vg)"/>
<rect x="465.81" y="421.5" width="6.32" height="21.5" fill="#145a00"/>
<rect x="466.31" y="422.1" width="5.32" height="20.9" fill="url(#vg)"/>
<rect x="472.13" y="411.7" width="6.32" height="31.3" fill="#145a00"/>
<rect x="472.63" y="412.3" width="5.32" height="30.7" fill="url(#vg)"/>
<rect x="478.45" y="413.1" width="6.32" height="29.9" fill="#145a00"/>
<rect x="478.95" y="413.7" width="5.32" height="29.3" fill="url(#vg)"/>
<rect x="484.77" y="408.9" width="6.32" height="34.1" fill="#145a00"/>
<rect x="485.27" y="409.5" width="5.32" height="33.5" fill="url(#vg)"/>
<rect x="491.09" y="389.2" width="6.32" height="53.8" fill="#145a00"/>
<rect x="491.59" y="389.8" width="5.32" height="53.2" fill="url(#vg)"/>
<rect x="497.42" y="398.5" width="6.32" height="44.5" fill="#145a00"/>
<rect x="497.92" y="399.1" width="5.32" height="43.9" fill="url(#vg)"/>
<rect x="503.74" y="392.3" width="6.32" height="50.7" fill="#145a00"/>
<rect x="504.24" y="392.9" width="5.32" height="50.1" fill="url(#vg)"/>
<rect x="510.06" y="385.0" width="6.32" height="58.0" fill="#145a00"/>
<rect x="510.56" y="385.6" width="5.32" height="57.4" fill="url(#vg)"/>
<rect x="516.38" y="418.1" width="6.32" height="24.9" fill="#145a00"/>
<rect x="516.88" y="418.7" width="5.32" height="24.3" fill="url(#vg)"/>
<rect x="522.70" y="416.4" width="6.32" height="26.6" fill="#145a00"/>
<rect x="523.20" y="417.0" width="5.32" height="26.0" fill="url(#vg)"/>
<rect x="529.03" y="386.4" width="6.32" height="56.6" fill="#145a00"/>
<rect x="529.53" y="387.0" width="5.32" height="56.0" fill="url(#vg)"/>
<rect x="535.35" y="385.6" width="6.32" height="57.4" fill="#145a00"/>
<rect x="535.85" y="386.2" width="5.32" height="56.8" fill="url(#vg)"/>
<rect x="541.67" y="368.7" width="6.32" height="74.3" fill="#145a00"/>
<rect x="542.17" y="369.3" width="5.32" height="73.7" fill="url(#vg)"/>
<rect x="547.99" y="377.4" width="6.32" height="65.6" fill="#145a00"/>
<rect x="548.49" y="378.0" width="5.32" height="65.0" fill="url(#vg)"/>
<rect x="554.31" y="398.2" width="6.32" height="44.8" fill="#145a00"/>
<rect x="554.81" y="398.8" width="5.32" height="44.2" fill="url(#vg)"/>
<rect x="560.64" y="354.7" width="6.32" height="88.3" fill="#145a00"/>
<rect x="561.14" y="355.3" width="5.32" height="87.7" fill="url(#vg)"/>
<rect x="566.96" y="427.4" width="6.32" height="15.6" fill="#145a00"/>
<rect x="567.46" y="428.0" width="5.32" height="15.0" fill="url(#vg)"/>
<rect x="573.28" y="404.1" width="6.32" height="38.9" fill="#145a00"/>
<rect x="573.78" y="404.7" width="5.32" height="38.3" fill="url(#vg)"/>
<rect x="579.60" y="428.2" width="6.32" height="14.8" fill="#145a00"/>
<rect x="580.10" y="428.8" width="5.32" height="14.2" fill="url(#vg)"/>
<rect x="585.92" y="419.5" width="6.32" height="23.5" fill="#145a00"/>
<rect x="586.42" y="420.1" width="5.32" height="22.9" fill="url(#vg)"/>
<rect x="592.25" y="406.3" width="6.32" height="36.7" fill="#145a00"/>
<rect x="592.75" y="406.9" width="5.32" height="36.1" fill="url(#vg)"/>
<rect x="598.57" y="421.5" width="6.32" height="21.5" fill="#145a00"/>
<rect x="599.07" y="422.1" width="5.32" height="20.9" fill="url(#vg)"/>
<rect x="604.89" y="431.6" width="6.32" height="11.4" fill="#145a00"/>
<rect x="605.39" y="432.2" width="5.32" height="10.8" fill="url(#vg)"/>
<rect x="611.21" y="421.2" width="6.32" height="21.8" fill="#145a00"/>
<rect x="611.71" y="421.8" width="5.32" height="21.2" fill="url(#vg)"/>
<rect x="617.53" y="424.9" width="6.32" height="18.1" fill="#145a00"/>
<rect x="618.03" y="425.5" width="5.32" height="17.5" fill="url(#vg)"/>
<rect x="623.86" y="422.9" width="6.32" height="20.1" fill="#145a00"/>
<rect x="624.36" y="423.5" width="5.32" height="19.5" fill="url(#vg)"/>
<rect x="630.18" y="412.5" width="6.32" height="30.5" fill="#145a00"/>
<rect x="630.68" y="413.1" width="5.32" height="29.9" fill="url(#vg)"/>
<rect x="636.50" y="418.4" width="6.32" height="24.6" fill="#145a00"/>
<rect x="637.00" y="419.0" width="5.32" height="24.0" fill="url(#vg)"/>
<rect x="642.82" y="427.4" width="6.32" height="15.6" fill="#145a00"/>
<rect x="643.32" y="428.0" width="5.32" height="15.0" fill="url(#vg)"/>
<rect x="649.14" y="423.5" width="6.32" height="19.5" fill="#145a00"/>
<rect x="649.64" y="424.1" width="5.32" height="18.9" fill="url(#vg)"/>
<rect x="655.47" y="426.3" width="6.32" height="16.7" fill="#145a00"/>
<rect x="655.97" y="426.9" width="5.32" height="16.1" fill="url(#vg)"/>
<rect x="661.79" y="429.1" width="6.32" height="13.9" fill="#145a00"/>
<rect x="662.29" y="429.7" width="5.32" height="13.3" fill="url(#vg)"/>
<rect x="668.11" y="422.4" width="6.32" height="20.6" fill="#145a00"/>
<rect x="668.61" y="423.0" width="5.32" height="20.0" fill="url(#vg)"/>
<rect x="674.43" y="424.6" width="6.32" height="18.4" fill="#145a00"/>
<rect x="674.93" y="425.2" width="5.32" height="17.8" fill="url(#vg)"/>
<rect x="680.75" y="430.2" width="6.32" height="12.8" fill="#145a00"/>
<rect x="681.25" y="430.8" width="5.32" height="12.2" fill="url(#vg)"/>
<rect x="687.08" y="425.4" width="6.32" height="17.6" fill="#145a00"/>
<rect x="687.58" y="426.0" width="5.32" height="17.0" fill="url(#vg)"/>
<rect x="693.40" y="419.6" width="6.32" height="23.4" fill="#145a00"/>
<rect x="693.90" y="420.2" width="5.32" height="22.8" fill="url(#vg)"/>
<rect x="699.72" y="414.5" width="6.32" height="28.5" fill="#145a00"/>
<rect x="700.22" y="415.1" width="5.32" height="27.9" fill="url(#vg)"/>
<rect x="706.04" y="423.2" width="6.32" height="19.8" fill="#145a00"/>
<rect x="706.54" y="423.8" width="5.32" height="19.2" fill="url(#vg)"/>
<rect x="712.36" y="388.2" width="6.32" height="54.8" fill="#145a00"/>
<rect x="712.86" y="388.8" width="5.32" height="54.2" fill="url(#vg)"/>
<rect x="718.69" y="412.5" width="6.32" height="30.5" fill="#145a00"/>
<rect x="719.19" y="413.1" width="5.32" height="29.9" fill="url(#vg)"/>
<rect x="725.01" y="404.4" width="6.32" height="38.6" fill="#145a00"/>
<rect x="725.51" y="405.0" width="5.32" height="38.0" fill="url(#vg)"/>
<rect x="731.33" y="386.2" width="6.32" height="56.8" fill="#145a00"/>
<rect x="731.83" y="386.8" width="5.32" height="56.2" fill="url(#vg)"/>
<rect x="737.65" y="404.1" width="6.32" height="38.9" fill="#145a00"/>
<rect x="738.15" y="404.7" width="5.32" height="38.3" fill="url(#vg)"/>
<rect x="743.97" y="424.6" width="6.32" height="18.4" fill="#145a00"/>
<rect x="744.47" y="425.2" width="5.32" height="17.8" fill="url(#vg)"/>
<rect x="750.30" y="427.1" width="6.32" height="15.9" fill="#145a00"/>
<rect x="750.80" y="427.7" width="5.32" height="15.3" fill="url(#vg)"/>
<rect x="756.62" y="425.2" width="6.32" height="17.8" fill="#145a00"/>
<rect x="757.12" y="425.8" width="5.32" height="17.2" fill="url(#vg)"/>
<rect x="762.94" y="400.5" width="6.32" height="42.5" fill="#145a00"/>
<rect x="763.44" y="401.1" width="5.32" height="41.9" fill="url(#vg)"/>
<rect x="769.26" y="417.3" width="6.32" height="25.7" fill="#145a00"/>
<rect x="769.76" y="417.9" width="5.32" height="25.1" fill="url(#vg)"/>
<rect x="775.58" y="389.6" width="6.32" height="53.4" fill="#145a00"/>
<rect x="776.08" y="390.2" width="5.32" height="52.8" fill="url(#vg)"/>
<rect x="781.91" y="422.6" width="6.32" height="20.4" fill="#145a00"/>
<rect x="782.41" y="423.2" width="5.32" height="19.8" fill="url(#vg)"/>
<rect x="788.23" y="341.4" width="6.32" height="101.6" fill="#145a00"/>
<rect x="788.73" y="342.0" width="5.32" height="101.0" fill="url(#vg)"/>
<rect x="794.55" y="417.6" width="6.32" height="25.4" fill="#145a00"/>
<rect x="795.05" y="418.2" width="5.32" height="24.8" fill="url(#vg)"/>
<rect x="800.87" y="431.3" width="6.32" height="11.7" fill="#145a00"/>
<rect x="801.37" y="431.9" width="5.32" height="11.1" fill="url(#vg)"/>
<g stroke="#d4d4d4" stroke-width="1">
<path d="M811.2 22.5 H813.8"/>
<path d="M811.2 41.5 H813.8"/>
<path d="M811.2 60.5 H813.8"/>
<path d="M811.2 79.5 H813.8"/>
<path d="M811.2 97.5 H813.8"/>
<path d="M811.2 116.5 H813.8"/>
<path d="M811.2 135.5 H813.8"/>
<path d="M811.2 154.5 H813.8"/>
<path d="M811.2 173.5 H813.8"/>
<path d="M811.2 192.5 H813.8"/>
<path d="M811.2 211.5 H813.8"/>
<path d="M811.2 230.5 H813.8"/>
<path d="M811.2 248.5 H813.8"/>
<path d="M811.2 267.5 H813.8"/>
<path d="M811.2 286.5 H813.8"/>
<path d="M811.2 305.5 H813.8"/>
<path d="M811.2 333.5 H813.8"/>
<path d="M811.2 370.5 H813.8"/>
<path d="M811.2 406.5 H813.8"/>
<path d="M811.2 443.5 H813.8"/>
<path d="M95.5 447 V449.6"/>
<path d="M236.7 447 V449.6"/>
<path d="M370.7 447 V449.6"/>
<path d="M510.4 447 V449.6"/>
<path d="M637.9 447 V449.6"/>
<path d="M766.3 447 V449.6"/>
</g>
<g font-family="'Liberation Sans', sans-serif" font-size="10.5" fill="#ffffff">
<text x="817.6" y="27.2" textLength="29.7" lengthAdjust="spacingAndGlyphs">102.5</text>
<text x="817.6" y="46.2" textLength="19.9" lengthAdjust="spacingAndGlyphs">100</text>
<text x="817.6" y="65.2" textLength="23.2" lengthAdjust="spacingAndGlyphs">97.5</text>
<text x="817.6" y="84.2" textLength="13.4" lengthAdjust="spacingAndGlyphs">95</text>
<text x="817.6" y="102.2" textLength="23.2" lengthAdjust="spacingAndGlyphs">92.5</text>
<text x="817.6" y="121.2" textLength="13.4" lengthAdjust="spacingAndGlyphs">90</text>
<text x="817.6" y="140.2" textLength="23.2" lengthAdjust="spacingAndGlyphs">87.5</text>
<text x="817.6" y="159.2" textLength="13.4" lengthAdjust="spacingAndGlyphs">85</text>
<text x="817.6" y="178.2" textLength="23.2" lengthAdjust="spacingAndGlyphs">82.5</text>
<text x="817.6" y="197.2" textLength="13.4" lengthAdjust="spacingAndGlyphs">80</text>
<text x="817.6" y="216.2" textLength="23.2" lengthAdjust="spacingAndGlyphs">77.5</text>
<text x="817.6" y="235.2" textLength="13.4" lengthAdjust="spacingAndGlyphs">75</text>
<text x="817.6" y="253.2" textLength="23.2" lengthAdjust="spacingAndGlyphs">72.5</text>
<text x="817.6" y="272.2" textLength="13.4" lengthAdjust="spacingAndGlyphs">70</text>
<text x="817.6" y="291.2" textLength="23.2" lengthAdjust="spacingAndGlyphs">67.5</text>
<text x="817.6" y="310.2" textLength="13.4" lengthAdjust="spacingAndGlyphs">65</text>
<text x="817.6" y="338.2" textLength="19.9" lengthAdjust="spacingAndGlyphs">750</text>
<text x="817.6" y="375.2" textLength="19.9" lengthAdjust="spacingAndGlyphs">500</text>
<text x="817.6" y="411.2" textLength="19.9" lengthAdjust="spacingAndGlyphs">250</text>
<text x="817.6" y="448.2" textLength="6.9" lengthAdjust="spacingAndGlyphs">0</text>
</g>
<g font-family="'Liberation Sans', sans-serif" font-size="11.2" fill="#ffffff">
<text x="76.8" y="461.9" textLength="38.5" lengthAdjust="spacingAndGlyphs">2-7-25</text>
<text x="216.7" y="461.9" textLength="39.0" lengthAdjust="spacingAndGlyphs">1-8-25</text>
<text x="350.3" y="461.9" textLength="39.0" lengthAdjust="spacingAndGlyphs">1-9-25</text>
<text x="487.6" y="461.9" textLength="45.7" lengthAdjust="spacingAndGlyphs">2-10-25</text>
<text x="615.0" y="461.9" textLength="46.2" lengthAdjust="spacingAndGlyphs">3-11-25</text>
<text x="743.7" y="461.9" textLength="45.3" lengthAdjust="spacingAndGlyphs">1-12-25</text>
<text x="687" y="474.8" font-size="10.6" textLength="159.2" lengthAdjust="spacingAndGlyphs">Copyright by AASTOCKS.com Ltd.</text>
</g>
</svg>
</body></html>
